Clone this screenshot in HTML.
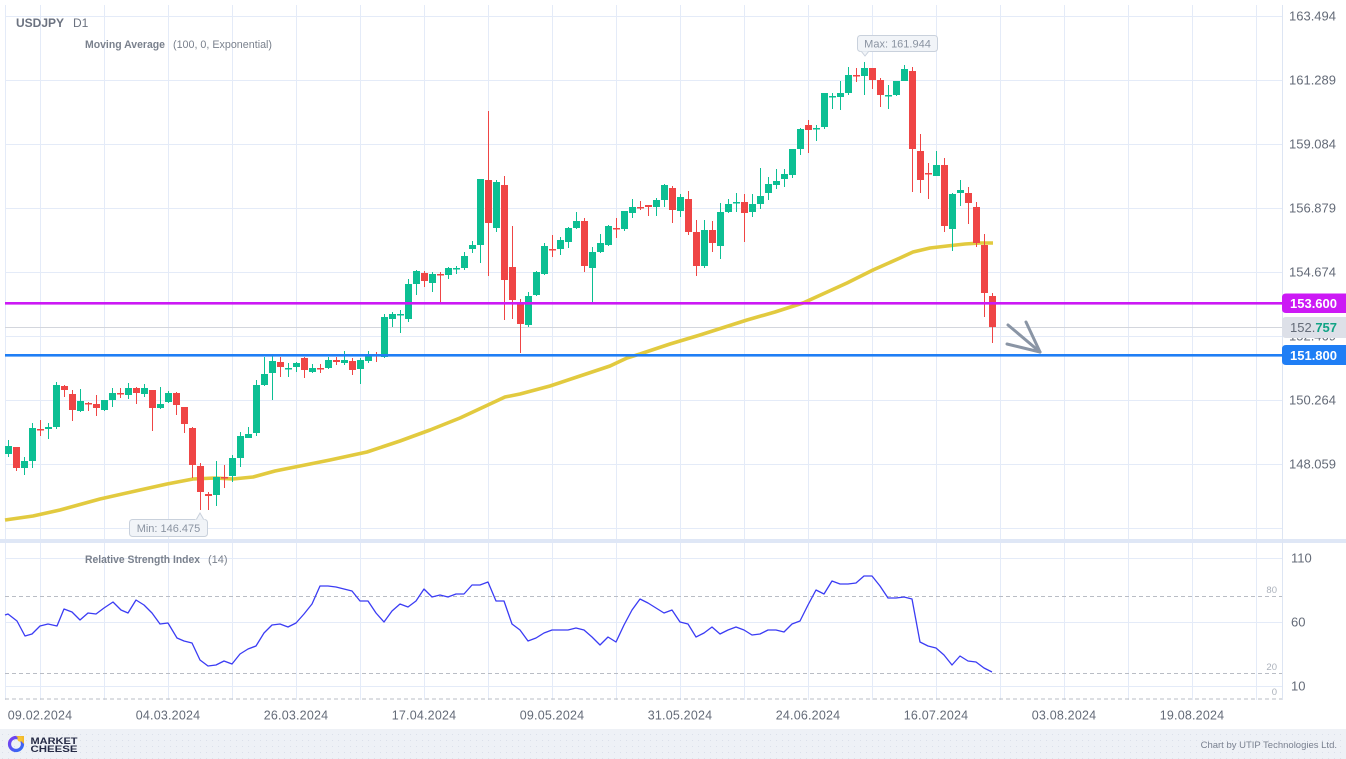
<!DOCTYPE html>
<html><head><meta charset="utf-8"><style>
html,body{margin:0;padding:0;background:#fff;}
svg{display:block;font-family:"Liberation Sans",Arial,sans-serif;}
</style></head><body>
<svg width="1346" height="759" viewBox="0 0 1346 759" xmlns="http://www.w3.org/2000/svg">
<defs>
<pattern id="dots" width="6" height="6" patternUnits="userSpaceOnUse"><rect width="6" height="6" fill="#eef1f6"/><rect x="2" y="2" width="1" height="1" fill="#dbe0ea"/></pattern>
<linearGradient id="lg" x1="0" y1="0" x2="1" y2="1"><stop offset="0" stop-color="#7b3cf0"/><stop offset="1" stop-color="#2e6df5"/></linearGradient>
</defs>
<rect width="1346" height="759" fill="#fff"/>
<!-- grid price panel -->
<g stroke="#e4ebf8" stroke-width="1">
<line x1="5" y1="16.5" x2="1282" y2="16.5"/><line x1="5" y1="80.5" x2="1282" y2="80.5"/><line x1="5" y1="144.5" x2="1282" y2="144.5"/><line x1="5" y1="208.5" x2="1282" y2="208.5"/><line x1="5" y1="272.5" x2="1282" y2="272.5"/><line x1="5" y1="336.5" x2="1282" y2="336.5"/><line x1="5" y1="400.5" x2="1282" y2="400.5"/><line x1="5" y1="464.5" x2="1282" y2="464.5"/><line x1="5" y1="528.5" x2="1282" y2="528.5"/>
<line x1="5.5" y1="5" x2="5.5" y2="539"/><line x1="40.5" y1="5" x2="40.5" y2="539"/><line x1="104.5" y1="5" x2="104.5" y2="539"/><line x1="168.5" y1="5" x2="168.5" y2="539"/><line x1="232.5" y1="5" x2="232.5" y2="539"/><line x1="296.5" y1="5" x2="296.5" y2="539"/><line x1="360.5" y1="5" x2="360.5" y2="539"/><line x1="424.5" y1="5" x2="424.5" y2="539"/><line x1="488.5" y1="5" x2="488.5" y2="539"/><line x1="552.5" y1="5" x2="552.5" y2="539"/><line x1="616.5" y1="5" x2="616.5" y2="539"/><line x1="680.5" y1="5" x2="680.5" y2="539"/><line x1="744.5" y1="5" x2="744.5" y2="539"/><line x1="808.5" y1="5" x2="808.5" y2="539"/><line x1="872.5" y1="5" x2="872.5" y2="539"/><line x1="936.5" y1="5" x2="936.5" y2="539"/><line x1="1000.5" y1="5" x2="1000.5" y2="539"/><line x1="1064.5" y1="5" x2="1064.5" y2="539"/><line x1="1128.5" y1="5" x2="1128.5" y2="539"/><line x1="1192.5" y1="5" x2="1192.5" y2="539"/><line x1="1256.5" y1="5" x2="1256.5" y2="539"/>
</g>
<!-- grid rsi panel -->
<g stroke="#e4ebf8" stroke-width="1">
<line x1="5" y1="558.5" x2="1282" y2="558.5"/><line x1="5" y1="622.5" x2="1282" y2="622.5"/><line x1="5" y1="686.5" x2="1282" y2="686.5"/>
<line x1="5.5" y1="543" x2="5.5" y2="700"/><line x1="40.5" y1="543" x2="40.5" y2="700"/><line x1="104.5" y1="543" x2="104.5" y2="700"/><line x1="168.5" y1="543" x2="168.5" y2="700"/><line x1="232.5" y1="543" x2="232.5" y2="700"/><line x1="296.5" y1="543" x2="296.5" y2="700"/><line x1="360.5" y1="543" x2="360.5" y2="700"/><line x1="424.5" y1="543" x2="424.5" y2="700"/><line x1="488.5" y1="543" x2="488.5" y2="700"/><line x1="552.5" y1="543" x2="552.5" y2="700"/><line x1="616.5" y1="543" x2="616.5" y2="700"/><line x1="680.5" y1="543" x2="680.5" y2="700"/><line x1="744.5" y1="543" x2="744.5" y2="700"/><line x1="808.5" y1="543" x2="808.5" y2="700"/><line x1="872.5" y1="543" x2="872.5" y2="700"/><line x1="936.5" y1="543" x2="936.5" y2="700"/><line x1="1000.5" y1="543" x2="1000.5" y2="700"/><line x1="1064.5" y1="543" x2="1064.5" y2="700"/><line x1="1128.5" y1="543" x2="1128.5" y2="700"/><line x1="1192.5" y1="543" x2="1192.5" y2="700"/><line x1="1256.5" y1="543" x2="1256.5" y2="700"/>
</g>
<!-- separator -->
<rect x="0" y="539" width="1346" height="4" fill="#dfe7f6"/>
<line x1="1282.5" y1="5" x2="1282.5" y2="700" stroke="#dde5f3" stroke-width="1"/>

<!-- current price line -->
<line x1="5" y1="327.5" x2="1282" y2="327.5" stroke="#d3d6dd" stroke-width="1"/>

<!-- EMA -->
<polyline fill="none" stroke="#e2ca3f" stroke-width="3.6" stroke-linejoin="round" points="5,520 33,516 60,510 100,499 140,490 167,484 193,479 215,478 233,479 253,477 275,471 300,466 330,460 367,452 400,441 430,430 460,418 490,404 505,397 520,394 550,386 580,376 610,366 627,358 640,354 670,344 700,335 747,320 775,312 803,303 825,293 847,283 873,270 900,258 913,252 930,248 947,246 965,244 980,243 993,243"/>

<!-- green candles -->
<g fill="#0cbf93">
<rect x="8" y="440" width="1" height="17"/><rect x="5" y="446" width="7" height="8"/>
<rect x="24" y="457" width="1" height="18"/><rect x="21" y="461" width="7" height="7"/>
<rect x="32" y="423" width="1" height="45"/><rect x="29" y="428" width="7" height="33"/>
<rect x="48" y="423" width="1" height="16"/><rect x="45" y="427" width="7" height="2"/>
<rect x="56" y="382" width="1" height="47"/><rect x="53" y="385" width="7" height="42"/>
<rect x="80" y="389" width="1" height="23"/><rect x="77" y="401" width="7" height="10"/>
<rect x="104" y="400" width="1" height="11"/><rect x="101" y="400" width="7" height="10"/>
<rect x="112" y="388" width="1" height="19"/><rect x="109" y="393" width="7" height="7"/>
<rect x="128" y="383" width="1" height="16"/><rect x="125" y="388" width="7" height="7"/>
<rect x="144" y="384" width="1" height="13"/><rect x="141" y="388" width="7" height="6"/>
<rect x="160" y="387" width="1" height="22"/><rect x="157" y="404" width="7" height="4"/>
<rect x="168" y="391" width="1" height="12"/><rect x="165" y="393" width="7" height="9"/>
<rect x="216" y="461" width="1" height="45"/><rect x="213" y="477" width="7" height="18"/>
<rect x="232" y="455" width="1" height="27"/><rect x="229" y="458" width="7" height="18"/>
<rect x="240" y="432" width="1" height="35"/><rect x="237" y="436" width="7" height="22"/>
<rect x="248" y="427" width="1" height="11"/><rect x="245" y="434" width="7" height="4"/>
<rect x="256" y="380" width="1" height="56"/><rect x="253" y="385" width="7" height="48"/>
<rect x="264" y="357" width="1" height="29"/><rect x="261" y="374" width="7" height="11"/>
<rect x="272" y="356" width="1" height="44"/><rect x="269" y="361" width="7" height="12"/>
<rect x="288" y="363" width="1" height="14"/><rect x="285" y="368" width="7" height="1.5"/>
<rect x="296" y="362" width="1" height="10"/><rect x="293" y="363" width="7" height="4"/>
<rect x="312" y="364" width="1" height="9"/><rect x="309" y="368" width="7" height="4"/>
<rect x="328" y="357" width="1" height="12"/><rect x="325" y="360" width="7" height="8"/>
<rect x="344" y="351" width="1" height="14"/><rect x="341" y="360" width="7" height="3"/>
<rect x="360" y="358" width="1" height="26"/><rect x="357" y="360" width="7" height="9"/>
<rect x="368" y="351" width="1" height="12"/><rect x="365" y="356" width="7" height="5"/>
<rect x="384" y="314" width="1" height="44"/><rect x="381" y="317" width="7" height="40"/>
<rect x="392" y="312" width="1" height="15"/><rect x="389" y="314" width="7" height="5"/>
<rect x="400" y="310" width="1" height="23"/><rect x="397" y="314" width="7" height="1.5"/>
<rect x="408" y="279" width="1" height="43"/><rect x="405" y="284" width="7" height="35"/>
<rect x="416" y="270" width="1" height="25"/><rect x="413" y="271" width="7" height="13"/>
<rect x="432" y="272" width="1" height="20"/><rect x="429" y="274" width="7" height="9"/>
<rect x="448" y="267" width="1" height="12"/><rect x="445" y="268" width="7" height="7"/>
<rect x="456" y="266" width="1" height="8"/><rect x="453" y="268" width="7" height="1.5"/>
<rect x="464" y="252" width="1" height="18"/><rect x="461" y="256" width="7" height="12"/>
<rect x="472" y="241" width="1" height="12"/><rect x="469" y="245" width="7" height="4"/>
<rect x="480" y="179" width="1" height="84"/><rect x="477" y="179" width="7" height="66"/>
<rect x="496" y="180" width="1" height="52"/><rect x="493" y="182" width="7" height="46"/>
<rect x="528" y="292" width="1" height="35"/><rect x="525" y="296" width="7" height="29"/>
<rect x="536" y="271" width="1" height="25"/><rect x="533" y="272" width="7" height="23"/>
<rect x="544" y="243" width="1" height="32"/><rect x="541" y="246" width="7" height="28"/>
<rect x="560" y="237" width="1" height="18"/><rect x="557" y="240" width="7" height="9"/>
<rect x="568" y="227" width="1" height="21"/><rect x="565" y="228" width="7" height="14"/>
<rect x="576" y="212" width="1" height="17"/><rect x="573" y="221" width="7" height="7"/>
<rect x="592" y="247" width="1" height="55"/><rect x="589" y="252" width="7" height="16"/>
<rect x="600" y="234" width="1" height="19"/><rect x="597" y="243" width="7" height="9"/>
<rect x="608" y="225" width="1" height="21"/><rect x="605" y="226" width="7" height="19"/>
<rect x="624" y="211" width="1" height="20"/><rect x="621" y="211" width="7" height="18"/>
<rect x="632" y="199" width="1" height="19"/><rect x="629" y="207" width="7" height="6"/>
<rect x="656" y="198" width="1" height="18"/><rect x="653" y="200" width="7" height="7"/>
<rect x="664" y="184" width="1" height="23"/><rect x="661" y="185" width="7" height="15"/>
<rect x="680" y="194" width="1" height="23"/><rect x="677" y="197" width="7" height="14"/>
<rect x="704" y="220" width="1" height="48"/><rect x="701" y="230" width="7" height="36"/>
<rect x="720" y="203" width="1" height="56"/><rect x="717" y="212" width="7" height="34"/>
<rect x="728" y="199" width="1" height="14"/><rect x="725" y="204" width="7" height="8"/>
<rect x="736" y="193" width="1" height="19"/><rect x="733" y="202" width="7" height="1.5"/>
<rect x="752" y="194" width="1" height="23"/><rect x="749" y="204" width="7" height="8"/>
<rect x="760" y="168" width="1" height="41"/><rect x="757" y="196" width="7" height="8"/>
<rect x="768" y="177" width="1" height="23"/><rect x="765" y="184" width="7" height="9"/>
<rect x="776" y="169" width="1" height="20"/><rect x="773" y="181" width="7" height="4"/>
<rect x="784" y="169" width="1" height="18"/><rect x="781" y="174" width="7" height="5"/>
<rect x="792" y="149" width="1" height="29"/><rect x="789" y="149" width="7" height="26"/>
<rect x="800" y="128" width="1" height="27"/><rect x="797" y="129" width="7" height="20"/>
<rect x="816" y="125" width="1" height="16"/><rect x="813" y="128" width="7" height="1.5"/>
<rect x="824" y="93" width="1" height="36"/><rect x="821" y="93" width="7" height="34"/>
<rect x="832" y="93" width="1" height="16"/><rect x="829" y="96" width="7" height="1.5"/>
<rect x="840" y="81" width="1" height="29"/><rect x="837" y="93" width="7" height="4"/>
<rect x="848" y="67" width="1" height="28"/><rect x="845" y="75" width="7" height="18"/>
<rect x="864" y="62" width="1" height="33"/><rect x="861" y="68" width="7" height="8"/>
<rect x="888" y="85" width="1" height="24"/><rect x="885" y="95" width="7" height="1.5"/>
<rect x="896" y="81" width="1" height="15"/><rect x="893" y="81" width="7" height="14"/>
<rect x="904" y="65" width="1" height="16"/><rect x="901" y="69" width="7" height="12"/>
<rect x="936" y="151" width="1" height="25"/><rect x="933" y="165" width="7" height="11"/>
<rect x="952" y="193" width="1" height="58"/><rect x="949" y="194" width="7" height="35"/>
<rect x="960" y="180" width="1" height="26"/><rect x="957" y="190" width="7" height="3"/>
</g>
<!-- red candles -->
<g fill="#ef4545">
<rect x="16" y="447" width="1" height="24"/><rect x="13" y="447" width="7" height="21"/>
<rect x="40" y="420" width="1" height="16"/><rect x="37" y="429" width="7" height="1.5"/>
<rect x="64" y="385" width="1" height="12"/><rect x="61" y="386" width="7" height="4"/>
<rect x="72" y="390" width="1" height="31"/><rect x="69" y="394" width="7" height="16"/>
<rect x="88" y="402" width="1" height="9"/><rect x="85" y="403" width="7" height="1.5"/>
<rect x="96" y="395" width="1" height="21"/><rect x="93" y="404" width="7" height="4"/>
<rect x="120" y="388" width="1" height="10"/><rect x="117" y="393" width="7" height="1.5"/>
<rect x="136" y="387" width="1" height="17"/><rect x="133" y="388" width="7" height="5"/>
<rect x="152" y="390" width="1" height="41"/><rect x="149" y="390" width="7" height="18"/>
<rect x="176" y="392" width="1" height="23"/><rect x="173" y="393" width="7" height="12"/>
<rect x="184" y="407" width="1" height="26"/><rect x="181" y="407" width="7" height="17"/>
<rect x="192" y="427" width="1" height="51"/><rect x="189" y="428" width="7" height="37"/>
<rect x="200" y="463" width="1" height="47"/><rect x="197" y="466" width="7" height="26"/>
<rect x="208" y="492" width="1" height="18"/><rect x="205" y="494" width="7" height="2"/>
<rect x="224" y="465" width="1" height="23"/><rect x="221" y="477" width="7" height="1.5"/>
<rect x="280" y="357" width="1" height="20"/><rect x="277" y="362" width="7" height="5"/>
<rect x="304" y="357" width="1" height="21"/><rect x="301" y="358" width="7" height="12"/>
<rect x="320" y="364" width="1" height="9"/><rect x="317" y="368" width="7" height="1.5"/>
<rect x="336" y="357" width="1" height="8"/><rect x="333" y="360" width="7" height="2"/>
<rect x="352" y="358" width="1" height="17"/><rect x="349" y="361" width="7" height="9"/>
<rect x="376" y="352" width="1" height="10"/><rect x="373" y="355" width="7" height="1.5"/>
<rect x="424" y="271" width="1" height="16"/><rect x="421" y="273" width="7" height="8"/>
<rect x="440" y="272" width="1" height="30"/><rect x="437" y="274" width="7" height="1.5"/>
<rect x="488" y="111" width="1" height="165"/><rect x="485" y="180" width="7" height="43"/>
<rect x="504" y="176" width="1" height="144"/><rect x="501" y="185" width="7" height="95"/>
<rect x="512" y="226" width="1" height="93"/><rect x="509" y="267" width="7" height="33"/>
<rect x="520" y="299" width="1" height="54"/><rect x="517" y="303" width="7" height="21"/>
<rect x="552" y="235" width="1" height="22"/><rect x="549" y="249" width="7" height="1.5"/>
<rect x="584" y="218" width="1" height="54"/><rect x="581" y="221" width="7" height="45"/>
<rect x="616" y="218" width="1" height="20"/><rect x="613" y="228" width="7" height="1.5"/>
<rect x="640" y="201" width="1" height="9"/><rect x="637" y="207" width="7" height="1.5"/>
<rect x="648" y="205" width="1" height="11"/><rect x="645" y="205" width="7" height="2"/>
<rect x="672" y="186" width="1" height="37"/><rect x="669" y="188" width="7" height="22"/>
<rect x="688" y="191" width="1" height="44"/><rect x="685" y="199" width="7" height="33"/>
<rect x="696" y="220" width="1" height="56"/><rect x="693" y="232" width="7" height="34"/>
<rect x="712" y="221" width="1" height="31"/><rect x="709" y="230" width="7" height="13"/>
<rect x="744" y="194" width="1" height="48"/><rect x="741" y="202" width="7" height="11"/>
<rect x="808" y="120" width="1" height="33"/><rect x="805" y="125" width="7" height="5"/>
<rect x="856" y="68" width="1" height="14"/><rect x="853" y="75" width="7" height="1.5"/>
<rect x="872" y="68" width="1" height="21"/><rect x="869" y="68" width="7" height="12"/>
<rect x="880" y="78" width="1" height="29"/><rect x="877" y="80" width="7" height="15"/>
<rect x="912" y="67" width="1" height="125"/><rect x="909" y="71" width="7" height="78"/>
<rect x="920" y="134" width="1" height="59"/><rect x="917" y="151" width="7" height="29"/>
<rect x="928" y="163" width="1" height="36"/><rect x="925" y="173" width="7" height="1.5"/>
<rect x="944" y="158" width="1" height="74"/><rect x="941" y="165" width="7" height="61"/>
<rect x="968" y="187" width="1" height="37"/><rect x="965" y="193" width="7" height="10"/>
<rect x="976" y="202" width="1" height="45"/><rect x="973" y="207" width="7" height="36"/>
<rect x="984" y="234" width="1" height="83"/><rect x="981" y="245" width="7" height="48"/>
<rect x="992" y="293" width="1" height="50"/><rect x="989" y="296" width="7" height="31"/>
</g>

<!-- horizontal level lines -->
<rect x="5" y="302" width="1277" height="2.6" fill="#cc19f5"/>
<rect x="5" y="354" width="1277" height="2.6" fill="#1f7ef5"/>

<!-- arrow -->
<g stroke="#8a95a5" stroke-width="3" stroke-linecap="round" fill="none">
<line x1="1008" y1="325" x2="1040" y2="352"/>
<line x1="1026" y1="322" x2="1040" y2="352"/>
<line x1="1007" y1="344" x2="1040" y2="352"/>
</g>

<!-- Max / Min labels -->
<g>
<rect x="857.5" y="35.5" width="80" height="16" rx="3" fill="#f1f4f8" stroke="#c9d1dc"/>
<path d="M861,51 L865,56 L869,51 Z" fill="#f1f4f8" stroke="#c9d1dc"/>
<rect x="860" y="50" width="10" height="1.2" fill="#f1f4f8"/>
<text x="897.5" y="47.5" font-size="11" fill="#8a93a1" text-anchor="middle">Max: 161.944</text>
<rect x="129.5" y="519.5" width="78" height="17" rx="3" fill="#f1f4f8" stroke="#c9d1dc"/>
<path d="M196,520 L200,513 L204,520 Z" fill="#f1f4f8" stroke="#c9d1dc"/>
<rect x="195" y="519.6" width="10" height="1.5" fill="#f1f4f8"/>
<text x="168.5" y="532" font-size="11" fill="#8a93a1" text-anchor="middle">Min: 146.475</text>
</g>

<!-- titles -->
<text x="16" y="27" font-size="12" font-weight="bold" fill="#6b7280">USDJPY</text>
<text x="73" y="27" font-size="12" fill="#6b7280">D1</text>
<text x="85" y="48" font-size="11" font-weight="bold" fill="#7a818d" textLength="80" lengthAdjust="spacingAndGlyphs">Moving Average</text>
<text x="173" y="48" font-size="11" fill="#7a818d" textLength="99" lengthAdjust="spacingAndGlyphs">(100, 0, Exponential)</text>
<text x="85" y="563" font-size="11" font-weight="bold" fill="#7a818d" textLength="115" lengthAdjust="spacingAndGlyphs">Relative Strength Index</text>
<text x="208" y="563" font-size="11" fill="#7a818d">(14)</text>

<!-- price axis labels -->
<g font-size="13" fill="#646b78">
<text x="1289" y="20.5">163.494</text>
<text x="1289" y="84.5">161.289</text>
<text x="1289" y="148.5">159.084</text>
<text x="1289" y="212.5">156.879</text>
<text x="1289" y="276.5">154.674</text>
<text x="1289" y="340.5">152.469</text>
<text x="1289" y="404.5">150.264</text>
<text x="1289" y="468.5">148.059</text>
<text x="1291" y="562.5">110</text>
<text x="1291" y="626.5">60</text>
<text x="1291" y="690.5">10</text>
</g>

<!-- price boxes -->
<path d="M1286,293.5 H1346 V313 H1286 Q1282,313 1282,309 V297.5 Q1282,293.5 1286,293.5 Z" fill="#cc19f5"/>
<text x="1290" y="308" font-size="13" font-weight="bold" fill="#ffffff">153.600</text>
<path d="M1286,317 H1346 V338 H1286 Q1282,338 1282,334 V321 Q1282,317 1286,317 Z" fill="#dde0e8"/>
<text x="1290" y="332" font-size="13" fill="#646b78">152.<tspan font-weight="bold" fill="#11a385">757</tspan></text>
<path d="M1286,345 H1346 V365 H1286 Q1282,365 1282,361 V349 Q1282,345 1286,345 Z" fill="#1f7ef5"/>
<text x="1290" y="360" font-size="13" font-weight="bold" fill="#ffffff">151.800</text>

<!-- RSI levels -->
<g stroke="#b9bdc5" stroke-width="1" stroke-dasharray="4,3">
<line x1="5" y1="596.5" x2="1282" y2="596.5"/>
<line x1="5" y1="673.5" x2="1282" y2="673.5"/>
<line x1="5" y1="699" x2="1282" y2="699"/>
</g>
<g font-size="9.5" fill="#abb1bb" text-anchor="end">
<text x="1277" y="593">80</text>
<text x="1277" y="670">20</text>
<text x="1277" y="695">0</text>
</g>

<!-- RSI line -->
<polyline fill="none" stroke="#3b3cf4" stroke-width="1.3" stroke-linejoin="round" points="5,615 8,614 17,621 25,636 32,634 40,626 48,624 57,626 64,609 72,612 80,620 88,613 96,614 104,608 113,602 121,610 128,613 136,600 144,605 152,613 160,624 168,623 177,638 184,641 192,643 200,660 208,666 216,665 224,661 232,664 240,654 248,649 256,646 264,633 272,625 280,624 288,627 296,623 304,614 312,604 320,586 328,586 336,587 344,589 352,591 360,601 368,601 376,613 384,622 392,611 400,604 408,607 416,601 424,589 432,597 440,595 448,597 456,594 464,594 472,585 480,585 488,582 496,601 504,601 512,624 520,630 528,641 536,638 544,633 552,630 560,630 568,630 576,628 584,630 592,637 600,645 608,637 616,642 624,625 632,610 640,599 648,603 656,608 664,613 672,610 680,622 688,624 696,637 704,633 712,627 720,634 728,630 736,627 744,630 752,635 760,634 768,630 776,630 784,632 792,624 800,621 808,605 816,590 824,594 832,581 840,584 848,584 856,583 864,576 872,576 880,586 888,598 896,598 904,597 912,599 920,642 928,646 936,648 944,655 952,665 960,656 968,661 976,662 984,668 992,672"/>

<!-- date axis -->
<g font-size="12.5" fill="#646b78" text-anchor="middle" letter-spacing="0.2">
<text x="40" y="719.5">09.02.2024</text>
<text x="168" y="719.5">04.03.2024</text>
<text x="296" y="719.5">26.03.2024</text>
<text x="424" y="719.5">17.04.2024</text>
<text x="552" y="719.5">09.05.2024</text>
<text x="680" y="719.5">31.05.2024</text>
<text x="808" y="719.5">24.06.2024</text>
<text x="936" y="719.5">16.07.2024</text>
<text x="1064" y="719.5">03.08.2024</text>
<text x="1192" y="719.5">19.08.2024</text>
</g>

<!-- footer -->
<rect x="0" y="729" width="1346" height="30" fill="url(#dots)"/>
<circle cx="16" cy="744" r="6.5" fill="none" stroke="url(#lg)" stroke-width="3.2"/>
<path d="M16,736 L24,736 L24,744 Z" fill="#f2b82c"/>
<circle cx="20" cy="739" r="2.6" fill="#f6c431"/>
<text x="30.5" y="743.8" font-size="9" font-weight="bold" fill="#262b46" textLength="47" lengthAdjust="spacingAndGlyphs">MARKET</text>
<text x="30.5" y="751.8" font-size="9" font-weight="bold" fill="#262b46" textLength="47" lengthAdjust="spacingAndGlyphs">CHEESE</text>
<text x="1337" y="748" font-size="9.5" fill="#7a8190" text-anchor="end">Chart by UTIP Technologies Ltd.</text>
</svg>
</body></html>
